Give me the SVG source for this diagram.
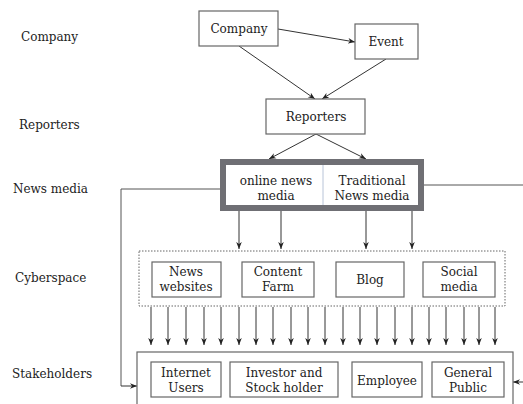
<svg xmlns="http://www.w3.org/2000/svg" width="523" height="404" viewBox="0 0 523 404">
<defs>
<marker id="ah" viewBox="0 0 10 10" refX="10" refY="5" markerWidth="7" markerHeight="7" orient="auto" markerUnits="userSpaceOnUse"><path d="M0,1 L10,5 L0,9 L3,5 z" fill="#222"/></marker>
</defs>
<style>
text{font-family:"DejaVu Serif","Liberation Serif",serif;font-size:12px;fill:#222;text-anchor:middle}
.lab{text-anchor:start}
.box{fill:#fff;stroke:#666;stroke-width:1.2}
.ln{fill:none;stroke:#555;stroke-width:1}
.arr{fill:none;stroke:#333;stroke-width:1;marker-end:url(#ah)}
</style>
<rect width="523" height="404" fill="#fff"/>
<g id="labels">
<text class="lab" x="21" y="41">Company</text>
<text class="lab" x="19" y="129">Reporters</text>
<text class="lab" x="13" y="193">News media</text>
<text class="lab" x="15" y="282">Cyberspace</text>
<text class="lab" x="12" y="378">Stakeholders</text>
</g>
<g id="connectors">
<line class="arr" x1="278" y1="29" x2="355" y2="42"/>
<line class="arr" x1="239" y1="46" x2="315" y2="99"/>
<line class="arr" x1="386" y1="59" x2="322" y2="99"/>
<line class="arr" x1="316" y1="134" x2="269" y2="159"/>
<line class="arr" x1="316" y1="134" x2="366" y2="159"/>
<line class="arr" x1="239" y1="211" x2="239" y2="249"/>
<line class="arr" x1="281" y1="211" x2="281" y2="249"/>
<line class="arr" x1="366" y1="211" x2="366" y2="249"/>
<line class="arr" x1="412" y1="211" x2="412" y2="249"/>
<polyline class="ln" points="220,189 121,189 121,386"/>
<line class="arr" x1="121" y1="386" x2="137" y2="386"/>
<line class="ln" x1="424" y1="185" x2="523" y2="185"/>
<line class="arr" x1="523" y1="382" x2="513" y2="382"/>
<g>
<line class="arr" x1="151" y1="307" x2="151" y2="345"/>
<line class="arr" x1="168" y1="307" x2="168" y2="345"/>
<line class="arr" x1="186" y1="307" x2="186" y2="345"/>
<line class="arr" x1="204" y1="307" x2="204" y2="345"/>
<line class="arr" x1="221" y1="307" x2="221" y2="345"/>
<line class="arr" x1="239" y1="307" x2="239" y2="345"/>
<line class="arr" x1="256" y1="307" x2="256" y2="345"/>
<line class="arr" x1="273" y1="307" x2="273" y2="345"/>
<line class="arr" x1="291" y1="307" x2="291" y2="345"/>
<line class="arr" x1="308" y1="307" x2="308" y2="345"/>
<line class="arr" x1="325" y1="307" x2="325" y2="345"/>
<line class="arr" x1="343" y1="307" x2="343" y2="345"/>
<line class="arr" x1="360" y1="307" x2="360" y2="345"/>
<line class="arr" x1="377" y1="307" x2="377" y2="345"/>
<line class="arr" x1="395" y1="307" x2="395" y2="345"/>
<line class="arr" x1="412" y1="307" x2="412" y2="345"/>
<line class="arr" x1="429" y1="307" x2="429" y2="345"/>
<line class="arr" x1="446" y1="307" x2="446" y2="345"/>
<line class="arr" x1="464" y1="307" x2="464" y2="345"/>
<line class="arr" x1="479" y1="307" x2="479" y2="345"/>
<line class="arr" x1="495" y1="307" x2="495" y2="345"/>
</g>
</g>
<g id="company"><rect class="box" x="199" y="11" width="79" height="35"/><text x="239" y="33">Company</text></g>
<g id="event"><rect class="box" x="355" y="24" width="63" height="35"/><text x="386" y="46">Event</text></g>
<g id="reporters"><rect class="box" x="266" y="99" width="99" height="35"/><text x="316" y="121">Reporters</text></g>
<g id="newsmedia">
<rect x="223" y="162" width="198" height="46" fill="#fff" stroke="#6f6f74" stroke-width="6"/>
<line x1="323" y1="165" x2="323" y2="205" stroke="#b8c4d8" stroke-width="1"/>
<text x="276" y="185">online news</text><text x="276" y="200">media</text>
<text x="372" y="185">Traditional</text><text x="372" y="200">News media</text>
</g>
<g id="cyberspace">
<rect x="139" y="251" width="366" height="55" fill="none" stroke="#666" stroke-width="1" stroke-dasharray="1.5,1.5"/>
<g id="newswebsites"><rect class="box" x="152" y="262" width="69" height="35"/><text x="186" y="276">News</text><text x="186" y="291">websites</text></g>
<g id="contentfarm"><rect class="box" x="242" y="262" width="72" height="35"/><text x="278" y="276">Content</text><text x="278" y="291">Farm</text></g>
<g id="blog"><rect class="box" x="336" y="262" width="68" height="35"/><text x="370" y="284">Blog</text></g>
<g id="socialmedia"><rect class="box" x="423" y="262" width="72" height="35"/><text x="459" y="276">Social</text><text x="459" y="291">media</text></g>
</g>
<g id="stakeholders">
<rect x="137" y="352" width="376" height="60" fill="none" stroke="#666" stroke-width="1.2"/>
<g id="internetusers"><rect class="box" x="151" y="362" width="70" height="35"/><text x="186" y="377">Internet</text><text x="186" y="392">Users</text></g>
<g id="investor"><rect class="box" x="230" y="362" width="108" height="35"/><text x="284" y="377">Investor and</text><text x="284" y="392">Stock holder</text></g>
<g id="employee"><rect class="box" x="352" y="362" width="70" height="35"/><text x="387" y="385">Employee</text></g>
<g id="generalpublic"><rect class="box" x="432" y="362" width="72" height="35"/><text x="468" y="377">General</text><text x="468" y="392">Public</text></g>
</g>
</svg>
